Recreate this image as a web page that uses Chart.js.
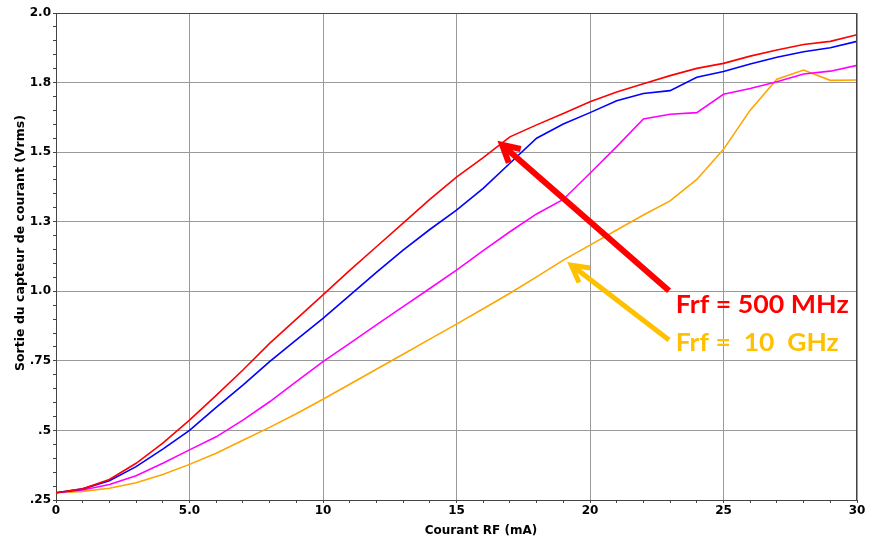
<!DOCTYPE html>
<html>
<head>
<meta charset="utf-8">
<title>Sortie du capteur de courant</title>
<script src="https://cdn.jsdelivr.net/npm/chart.js@4.4.1/dist/chart.umd.min.js"></script>
<style>
  html, body { margin: 0; padding: 0; background: #fff; }
  #wrap { width: 869px; height: 542px; }
</style>
</head>
<body>
<div id="wrap"><canvas id="myChart" width="869" height="542"></canvas></div>
<script>
// courant RF (mA)
const current = [0,1,2,3,4,5,6,7,8,9,10,11,12,13,14,15,16,17,18,19,20,21,22,23,24,25,26,27,28,29,30];

// sortie (Vrms) for each frequency
const out500MHz = [0.276,0.290,0.324,0.382,0.454,0.537,0.626,0.717,0.813,0.900,0.987,1.075,1.160,1.245,1.330,1.410,1.480,1.555,1.598,1.639,1.681,1.716,1.746,1.775,1.801,1.819,1.845,1.867,1.887,1.898,1.922];
const outBlue   = [0.276,0.290,0.319,0.370,0.433,0.500,0.583,0.663,0.747,0.825,0.903,0.985,1.068,1.148,1.222,1.292,1.370,1.460,1.550,1.601,1.642,1.685,1.711,1.721,1.769,1.790,1.817,1.841,1.861,1.875,1.898];
const outMagenta= [0.276,0.286,0.306,0.337,0.382,0.430,0.477,0.537,0.603,0.675,0.747,0.813,0.879,0.945,1.010,1.076,1.146,1.214,1.278,1.330,1.424,1.520,1.619,1.636,1.642,1.708,1.729,1.753,1.781,1.791,1.812];
const out10GHz  = [0.276,0.281,0.292,0.312,0.342,0.378,0.418,0.465,0.511,0.560,0.612,0.666,0.720,0.774,0.828,0.882,0.937,0.993,1.052,1.112,1.166,1.220,1.274,1.325,1.402,1.510,1.651,1.762,1.795,1.758,1.759];

// tick labels
const xTickValues = [0,5,10,15,20,25,30];
const xTickLabels = ['0','5.0','10','15','20','25','30'];
const yTickValues = [0.25,0.5,0.75,1.0,1.25,1.5,1.75,2.0];
const yTickLabels = ['.25','.5','.75','1.0','1.3','1.5','1.8','2.0'];

const xTitle = 'Courant RF (mA)';
const yTitle = 'Sortie du capteur de courant (Vrms)';

// annotations (in data units)
const arrows = [
  { from: [22.96, 1.002], to: [16.71, 1.526], color: '#FF0000', width: 6 },
  { from: [22.96, 0.825], to: [19.30, 1.094], color: '#FFC000', width: 5 }
];
const notes = [
  { text: 'Frf = 500 MHz', at: [23.21, 0.922], color: '#FF0000', w: 173 },
  { text: 'Frf =  10  GHz', at: [23.21, 0.786], color: '#FFC000', w: 163 }
];

const findLabel = (values, labels, v) => {
  const i = values.findIndex(t => Math.abs(t - v) < 1e-6);
  return i >= 0 ? labels[i] : '';
};
const isMajor = (values, v) => values.some(t => Math.abs(t - v) < 1e-6);

const toPoints = ys => current.map((x, i) => ({ x: x, y: ys[i] }));

const frameAndNotes = {
  id: 'frameAndNotes',
  afterDatasetsDraw(chart) {
    const { ctx, chartArea, scales: { x, y } } = chart;
    ctx.save();
    // top and right frame
    ctx.strokeStyle = '#444';
    ctx.lineWidth = 1;
    ctx.beginPath();
    ctx.moveTo(chartArea.left, chartArea.top + 0.5);
    ctx.lineTo(chartArea.right - 0.5, chartArea.top + 0.5);
    ctx.lineTo(chartArea.right - 0.5, chartArea.bottom);
    ctx.stroke();

    arrows.forEach(a => {
      const x1 = x.getPixelForValue(a.from[0]), y1 = y.getPixelForValue(a.from[1]);
      const x2 = x.getPixelForValue(a.to[0]), y2 = y.getPixelForValue(a.to[1]);
      const ang = Math.atan2(y1 - y2, x1 - x2);
      const len = 19, spread = 0.5;
      ctx.strokeStyle = a.color;
      ctx.lineWidth = a.width;
      ctx.lineCap = 'butt';
      ctx.lineJoin = 'miter';
      ctx.beginPath();
      ctx.moveTo(x1, y1);
      ctx.lineTo(x2 + 2 * Math.cos(ang), y2 + 2 * Math.sin(ang));
      ctx.stroke();
      ctx.beginPath();
      ctx.moveTo(x2 + len * Math.cos(ang - spread), y2 + len * Math.sin(ang - spread));
      ctx.lineTo(x2, y2);
      ctx.lineTo(x2 + len * Math.cos(ang + spread), y2 + len * Math.sin(ang + spread));
      ctx.stroke();
    });

    notes.forEach(n => {
      const px = x.getPixelForValue(n.at[0]), py = y.getPixelForValue(n.at[1]);
      ctx.font = 'bold 25px Lato, "Open Sans", sans-serif';
      ctx.fillStyle = n.color;
      ctx.textBaseline = 'alphabetic';
      ctx.textAlign = 'left';
      const m = ctx.measureText(n.text).width;
      ctx.save();
      ctx.translate(px, py);
      ctx.scale(n.w / m, 1);
      ctx.fillText(n.text, 0, 0);
      ctx.restore();
    });

    // axis titles (the original puts them a bit off-centre)
    ctx.fillStyle = '#000';
    ctx.textAlign = 'center';
    ctx.textBaseline = 'middle';
    ctx.font = 'bold 12px "DejaVu Sans", sans-serif';
    ctx.fillText(xTitle, 481, 531);
    ctx.save();
    ctx.translate(21, 243);
    ctx.rotate(-Math.PI / 2);
    ctx.font = 'bold 12.5px "DejaVu Sans", sans-serif';
    ctx.fillText(yTitle, 0, 0);
    ctx.restore();
    ctx.restore();
  }
};

const tickFont = { family: '"DejaVu Sans", sans-serif', size: 12, weight: 'bold', lineHeight: 1 };

const ctx = document.getElementById('myChart').getContext('2d');
new Chart(ctx, {
  type: 'line',
  data: {
    datasets: [
      { label: 'Frf = 500 MHz', data: toPoints(out500MHz), borderColor: '#FF0000' },
      { label: 'serie 2', data: toPoints(outBlue), borderColor: '#0000FF' },
      { label: 'serie 3', data: toPoints(outMagenta), borderColor: '#FF00FF' },
      { label: 'Frf = 10 GHz', data: toPoints(out10GHz), borderColor: '#FFA500' }
    ]
  },
  options: {
    responsive: false,
    animation: false,
    devicePixelRatio: 1,
    layout: { padding: { top: 13, right: 12, left: 0, bottom: 0 } },
    elements: {
      line: { borderWidth: 1.6, tension: 0, fill: false },
      point: { radius: 0, hoverRadius: 0 }
    },
    plugins: { legend: { display: false }, tooltip: { enabled: false } },
    scales: {
      x: {
        type: 'linear',
        min: 0, max: 30,
        afterFit: scale => { scale.height = 42; },
        ticks: {
          stepSize: 1,
          autoSkip: false,
          maxRotation: 0,
          padding: 2,
          color: '#000',
          font: tickFont,
          callback: v => findLabel(xTickValues, xTickLabels, v)
        },
        grid: {
          color: c => isMajor(xTickValues, c.tick.value) ? '#9a9a9a' : 'rgba(0,0,0,0)',
          tickColor: '#444',
          tickLength: 3,
          lineWidth: 1
        },
        border: { color: '#444', width: 1 }
      },
      y: {
        type: 'linear',
        min: 0.25, max: 2.0,
        afterFit: scale => { scale.width = 56; },
        ticks: {
          stepSize: 0.05,
          autoSkip: false,
          padding: 2,
          color: '#000',
          font: tickFont,
          callback: v => findLabel(yTickValues, yTickLabels, v)
        },
        grid: {
          color: c => isMajor(yTickValues, c.tick.value) ? '#9a9a9a' : 'rgba(0,0,0,0)',
          tickColor: '#444',
          tickLength: 3,
          lineWidth: 1
        },
        border: { color: '#444', width: 1 }
      }
    }
  },
  plugins: [frameAndNotes]
});
</script>
</body>
</html>
